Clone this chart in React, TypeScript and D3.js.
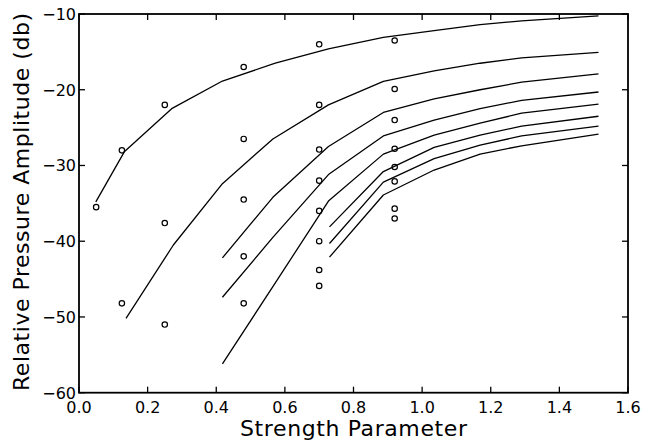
import React from "react";
import * as d3 from "d3";

// ---- data ----
const xTicks = [0.0, 0.2, 0.4, 0.6, 0.8, 1.0, 1.2, 1.4, 1.6];
const yTicks = [-60, -50, -40, -30, -20, -10];

const curve1X = [0.049, 0.132, 0.27, 0.418, 0.572, 0.727, 0.887, 1.035, 1.169, 1.29, 1.514];
const curve1Y = [-34.8, -28.2, -22.5, -18.85, -16.5, -14.6, -13.1, -12.2, -11.4, -10.9, -10.26];
const curve2X = [0.137, 0.275, 0.418, 0.565, 0.727, 0.887, 1.035, 1.169, 1.29, 1.514];
const curve2Y = [-50.2, -40.5, -32.4, -26.5, -22.0, -18.9, -17.5, -16.5, -15.8, -15.06];
const curve3X = [0.418, 0.565, 0.727, 0.887, 1.035, 1.169, 1.29, 1.514];
const curve3Y = [-42.2, -34.2, -27.5, -23.0, -21.2, -20.0, -19.0, -17.9];
const curve4X = [0.418, 0.565, 0.727, 0.887, 1.035, 1.169, 1.29, 1.514];
const curve4Y = [-47.4, -39.5, -31.2, -26.1, -24.0, -22.5, -21.4, -20.3];
const curve5X = [0.418, 0.565, 0.727, 0.887, 1.035, 1.169, 1.29, 1.514];
const curve5Y = [-56.2, -46.0, -34.7, -28.5, -26.0, -24.4, -23.1, -21.9];
const curve6X = [0.73, 0.887, 1.035, 1.169, 1.29, 1.514];
const curve6Y = [-38.1, -30.8, -27.6, -26.0, -24.8, -23.5];
const curve7X = [0.73, 0.887, 1.035, 1.169, 1.29, 1.514];
const curve7Y = [-40.3, -32.2, -29.1, -27.3, -26.1, -24.8];
const curve8X = [0.73, 0.887, 1.035, 1.169, 1.29, 1.514];
const curve8Y = [-42.1, -33.9, -30.6, -28.5, -27.4, -25.85];

const curvesX = [curve1X, curve2X, curve3X, curve4X, curve5X, curve6X, curve7X, curve8X];
const curvesY = [curve1Y, curve2Y, curve3Y, curve4Y, curve5Y, curve6Y, curve7Y, curve8Y];

const pointX = [
  0.05,
  0.125, 0.125,
  0.25, 0.25, 0.25,
  0.48, 0.48, 0.48, 0.48, 0.48,
  0.70, 0.70, 0.70, 0.70, 0.70, 0.70, 0.70, 0.70,
  0.92, 0.92, 0.92, 0.92, 0.92, 0.92, 0.92, 0.92,
];
const pointY = [
  -35.5,
  -28.0, -48.2,
  -22.0, -37.6, -51.0,
  -17.0, -26.5, -34.5, -42.0, -48.2,
  -14.0, -22.0, -27.9, -32.0, -36.0, -40.0, -43.8, -45.9,
  -13.5, -19.9, -24.0, -27.8, -30.2, -32.1, -35.7, -37.0,
];

const xTitle = "Strength Parameter";
const yTitle = "Relative Pressure Amplitude (db)";

// ---- layout ----
const W = 645;
const H = 445;
const L = 79, R = 628, T = 14, B = 392.7;
const FONT = "'DejaVu Sans', sans-serif";

export default function App() {
  const x = d3.scaleLinear().domain([0, 1.6]).range([L, R]);
  const y = d3.scaleLinear().domain([-60, -10]).range([B, T]);
  const line = d3
    .line<[number, number]>()
    .x((d) => x(d[0]))
    .y((d) => y(d[1]));
  const tick = 6;

  return (
    <svg
      width={W}
      height={H}
      style={{ position: "absolute", left: 0, top: 0, background: "#fff" }}
    >
      <rect x={0} y={0} width={W} height={H} fill="#fff" />
      {curvesX.map((cx, i) => (
        <path
          key={"c" + i}
          d={line(cx.map((v, j) => [v, curvesY[i][j]] as [number, number])) || ""}
          fill="none"
          stroke="#000"
          strokeWidth={1.3}
          strokeLinejoin="round"
        />
      ))}
      {pointX.map((px, i) => (
        <circle
          key={"p" + i}
          cx={x(px)}
          cy={y(pointY[i])}
          r={2.7}
          fill="none"
          stroke="#000"
          strokeWidth={1.2}
        />
      ))}
      {/* frame */}
      <rect x={L} y={T} width={R - L} height={B - T} fill="none" stroke="#000" strokeWidth={1.8} />
      {/* x ticks */}
      {xTicks.map((t, i) => (
        <g key={"xt" + i}>
          <line x1={x(t)} x2={x(t)} y1={B} y2={B - tick} stroke="#000" strokeWidth={1.3} />
          <line x1={x(t)} x2={x(t)} y1={T} y2={T + tick} stroke="#000" strokeWidth={1.3} />
          <text
            x={x(t)}
            y={413}
            textAnchor="middle"
            fontFamily={FONT}
            fontSize={16}
            fill="#000"
          >
            {t.toFixed(1)}
          </text>
        </g>
      ))}
      {/* y ticks */}
      {yTicks.map((t, i) => (
        <g key={"yt" + i}>
          <line x1={L} x2={L + tick} y1={y(t)} y2={y(t)} stroke="#000" strokeWidth={1.3} />
          <line x1={R} x2={R - tick} y1={y(t)} y2={y(t)} stroke="#000" strokeWidth={1.3} />
          <text
            x={76}
            y={y(t) + 6}
            textAnchor="end"
            fontFamily={FONT}
            fontSize={16}
            fill="#000"
          >
            {"\u2212" + Math.abs(t)}
          </text>
        </g>
      ))}
      <text
        x={353.5}
        y={436}
        textAnchor="middle"
        fontFamily={FONT}
        fontSize={22}
        fill="#000"
        textLength={227}
        lengthAdjust="spacing"
      >
        {xTitle}
      </text>
      <text
        transform={`translate(28.5,202) rotate(-90)`}
        textAnchor="middle"
        fontFamily={FONT}
        fontSize={22}
        fill="#000"
        textLength={378}
        lengthAdjust="spacing"
      >
        {yTitle}
      </text>
    </svg>
  );
}
